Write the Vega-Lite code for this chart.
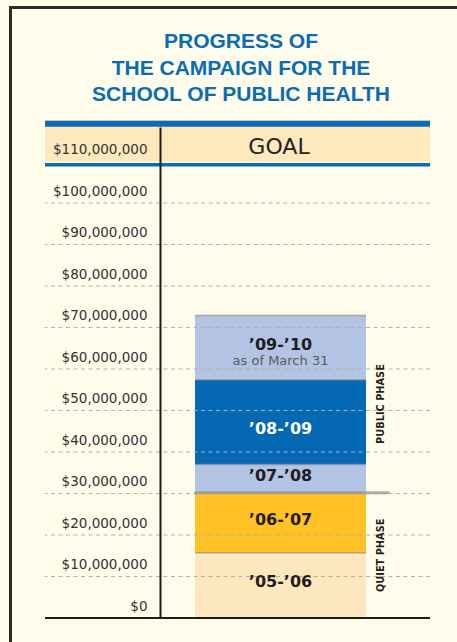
{
  "$schema": "https://vega.github.io/schema/vega-lite/v6.json",
  "width": 385,
  "height": 491,
  "autosize": {"type": "none"},
  "padding": {"left": 45, "top": 127, "right": 27, "bottom": 24},
  "background": "#FFFCEB",
  "title": {
    "text": ["PROGRESS OF", "THE CAMPAIGN FOR THE", "SCHOOL OF PUBLIC HEALTH"],
    "font": "Liberation Sans",
    "fontSize": 21,
    "fontWeight": "bold",
    "color": "#0B6CB5",
    "lineHeight": 26.5,
    "anchor": "middle",
    "frame": "group",
    "offset": -99,
    "dx": 3.5
  },
  "config": {
    "view": {"stroke": null},
    "font": "DejaVu Sans",
    "axisY": {
      "offset": -115,
      "zindex": 1,
      "domainColor": "#1c1c1c",
      "domainWidth": 2,
      "ticks": false,
      "tickSize": 0,
      "grid": false,
      "labelFont": "DejaVu Sans",
      "labelFontSize": 13.5,
      "labelColor": "#333333",
      "labelPadding": 13,
      "labelOffset": -11.5,
      "labelBaseline": "middle",
      "labelFlush": false,
      "labelOverlap": false,
      "labelBound": false,
      "title": null
    }
  },
  "datasets": {
    "campaign": [
      {"campaign": "SPH", "period": "05-06", "label": "’05-’06", "note": "", "phase": "QUIET PHASE", "seq": 1, "amount": 15700000},
      {"campaign": "SPH", "period": "06-07", "label": "’06-’07", "note": "", "phase": "QUIET PHASE", "seq": 2, "amount": 14500000},
      {"campaign": "SPH", "period": "07-08", "label": "’07-’08", "note": "", "phase": "PUBLIC PHASE", "seq": 3, "amount": 6800000},
      {"campaign": "SPH", "period": "08-09", "label": "’08-’09", "note": "", "phase": "PUBLIC PHASE", "seq": 4, "amount": 20400000},
      {"campaign": "SPH", "period": "09-10", "label": "’09-’10", "note": "as of March 31", "phase": "PUBLIC PHASE", "seq": 5, "amount": 15500000}
    ],
    "grid": [
      {"value": 10000000}, {"value": 20000000}, {"value": 30000000}, {"value": 40000000}, {"value": 50000000},
      {"value": 60000000}, {"value": 70000000}, {"value": 80000000}, {"value": 90000000}, {"value": 100000000}
    ],
    "goal": [{"goal": 110000000, "label": "GOAL"}]
  },
  "layer": [
    {
      "data": {"name": "goal"},
      "mark": {"type": "rect", "color": "#FEE8BD"},
      "encoding": {
        "y": {"field": "goal", "type": "quantitative", "title": null},
        "y2": {"datum": 120000000}
      }
    },
    {
      "data": {"name": "campaign"},
      "mark": {"type": "bar", "strokeWidth": 0},
      "encoding": {
        "x": {"field": "campaign", "type": "nominal", "axis": null,
              "scale": {"type": "band", "paddingInner": 0, "paddingOuter": 0.6257, "align": 0.701}},
        "y": {"field": "amount", "type": "quantitative", "stack": "zero", "title": null,
              "scale": {"domain": [0, 118300000], "nice": false, "zero": true},
              "axis": {"zindex": 1, "values": [0, 10000000, 20000000, 30000000, 40000000, 50000000, 60000000, 70000000, 80000000, 90000000, 100000000, 110000000], "format": "$,.0f"}},
        "order": {"field": "seq"},
        "color": {"field": "period", "type": "nominal",
                  "scale": {"domain": ["05-06", "06-07", "07-08", "08-09", "09-10"],
                            "range": ["#FDE7BE", "#FFC124", "#B3C3E4", "#0568B3", "#B3C3E4"]},
                  "legend": {"orient": "none", "legendX": -34.5, "legendY": -119.5, "title": null,
                             "strokeColor": "#2b2b2b", "padding": 330, "symbolOpacity": 0, "labelOpacity": 0,
                             "symbolStrokeWidth": 0,
                             "encode": {"legend": {"update": {"strokeWidth": {"value": 3}, "stroke": {"value": "#2b2b2b"}}}}}}
      }
    },
    {
      "data": {"name": "goal"},
      "mark": {"type": "rule", "color": "#0B6CB5", "strokeWidth": 6},
      "encoding": {"y": {"datum": 119100000, "type": "quantitative"}}
    },
    {
      "data": {"name": "goal"},
      "mark": {"type": "rule", "color": "#0B6CB5", "strokeWidth": 3.5},
      "encoding": {"y": {"datum": 109200000, "type": "quantitative"}}
    },
    {
      "data": {"name": "grid"},
      "mark": {"type": "rule", "color": "#B3B1A8", "strokeWidth": 1, "strokeDash": [4, 3.5]},
      "encoding": {"y": {"field": "value", "type": "quantitative", "title": null}}
    },
    {
      "data": {"name": "campaign"},
      "transform": [
        {"stack": "amount", "groupby": ["campaign"], "sort": [{"field": "seq"}], "as": ["lo", "hi"]},
        {"filter": "datum.seq != 2"}
      ],
      "mark": {"type": "tick", "color": "#8E8E8E", "thickness": 1.5, "size": 171, "orient": "horizontal"},
      "encoding": {
        "x": {"field": "campaign", "type": "nominal", "axis": null,
              "scale": {"type": "band", "paddingInner": 0, "paddingOuter": 0.6257, "align": 0.701}},
        "y": {"field": "hi", "type": "quantitative", "title": null}
      }
    },
    {
      "data": {"name": "campaign"},
      "transform": [
        {"stack": "amount", "groupby": ["campaign"], "sort": [{"field": "seq"}], "as": ["lo", "hi"]},
        {"filter": "datum.seq == 2"}
      ],
      "mark": {"type": "tick", "color": "#8E8E8E", "thickness": 3, "size": 195, "orient": "horizontal", "xOffset": 11.5},
      "encoding": {
        "x": {"field": "campaign", "type": "nominal", "axis": null,
              "scale": {"type": "band", "paddingInner": 0, "paddingOuter": 0.6257, "align": 0.701}},
        "y": {"field": "hi", "type": "quantitative", "title": null}
      }
    },
    {
      "data": {"name": "goal"},
      "mark": {"type": "rule", "color": "#1c1c1c", "strokeWidth": 2},
      "encoding": {"y": {"datum": 0, "type": "quantitative"}}
    },
    {
      "data": {"name": "campaign"},
      "mark": {"type": "text", "font": "DejaVu Sans", "fontWeight": "bold", "fontSize": 16, "baseline": "middle", "dy": -3},
      "encoding": {
        "x": {"field": "campaign", "type": "nominal", "axis": null,
              "scale": {"type": "band", "paddingInner": 0, "paddingOuter": 0.6257, "align": 0.701}},
        "y": {"field": "amount", "type": "quantitative", "stack": "zero", "bandPosition": 0.5, "title": null},
        "detail": {"field": "period"},
        "order": {"field": "seq"},
        "text": {"field": "label"},
        "color": {"value": "#1E1E1E"},
        "opacity": {"condition": {"test": "datum.period === '08-09'", "value": 0}, "value": 1}
      }
    },
    {
      "data": {"name": "campaign"},
      "mark": {"type": "text", "font": "DejaVu Sans", "fontWeight": "bold", "fontSize": 16, "baseline": "middle", "dy": 7},
      "encoding": {
        "x": {"field": "campaign", "type": "nominal", "axis": null,
              "scale": {"type": "band", "paddingInner": 0, "paddingOuter": 0.6257, "align": 0.701}},
        "y": {"field": "amount", "type": "quantitative", "stack": "zero", "bandPosition": 0.5, "title": null},
        "detail": {"field": "period"},
        "order": {"field": "seq"},
        "text": {"field": "label"},
        "color": {"value": "#FFFFFF"},
        "opacity": {"condition": {"test": "datum.period === '08-09'", "value": 1}, "value": 0}
      }
    },
    {
      "data": {"name": "campaign"},
      "mark": {"type": "text", "font": "DejaVu Sans", "fontSize": 13, "baseline": "middle", "dy": 13.5, "color": "#5a5a5a"},
      "encoding": {
        "x": {"field": "campaign", "type": "nominal", "axis": null,
              "scale": {"type": "band", "paddingInner": 0, "paddingOuter": 0.6257, "align": 0.701}},
        "y": {"field": "amount", "type": "quantitative", "stack": "zero", "bandPosition": 0.5, "title": null},
        "detail": {"field": "period"},
        "order": {"field": "seq"},
        "text": {"field": "note"}
      }
    },
    {
      "data": {"name": "campaign"},
      "transform": [
        {"aggregate": [{"op": "sum", "field": "amount", "as": "total"}, {"op": "min", "field": "seq", "as": "first"}], "groupby": ["campaign", "phase"]}
      ],
      "mark": {"type": "text", "font": "DejaVu Sans", "fontWeight": "bold", "fontSize": 9.8, "angle": 270, "baseline": "middle", "xOffset": 100, "color": "#1E1E1E"},
      "encoding": {
        "x": {"field": "campaign", "type": "nominal", "axis": null,
              "scale": {"type": "band", "paddingInner": 0, "paddingOuter": 0.6257, "align": 0.701}},
        "y": {"field": "total", "type": "quantitative", "stack": "zero", "bandPosition": 0.5, "title": null},
        "detail": {"field": "phase"},
        "order": {"field": "first"},
        "text": {"field": "phase"}
      }
    },
    {
      "data": {"name": "goal"},
      "mark": {"type": "text", "font": "DejaVu Sans", "fontSize": 22, "baseline": "middle", "dx": 41.5, "color": "#222222"},
      "encoding": {
        "y": {"datum": 113600000, "type": "quantitative"},
        "text": {"field": "label"}
      }
    }
  ]
}
